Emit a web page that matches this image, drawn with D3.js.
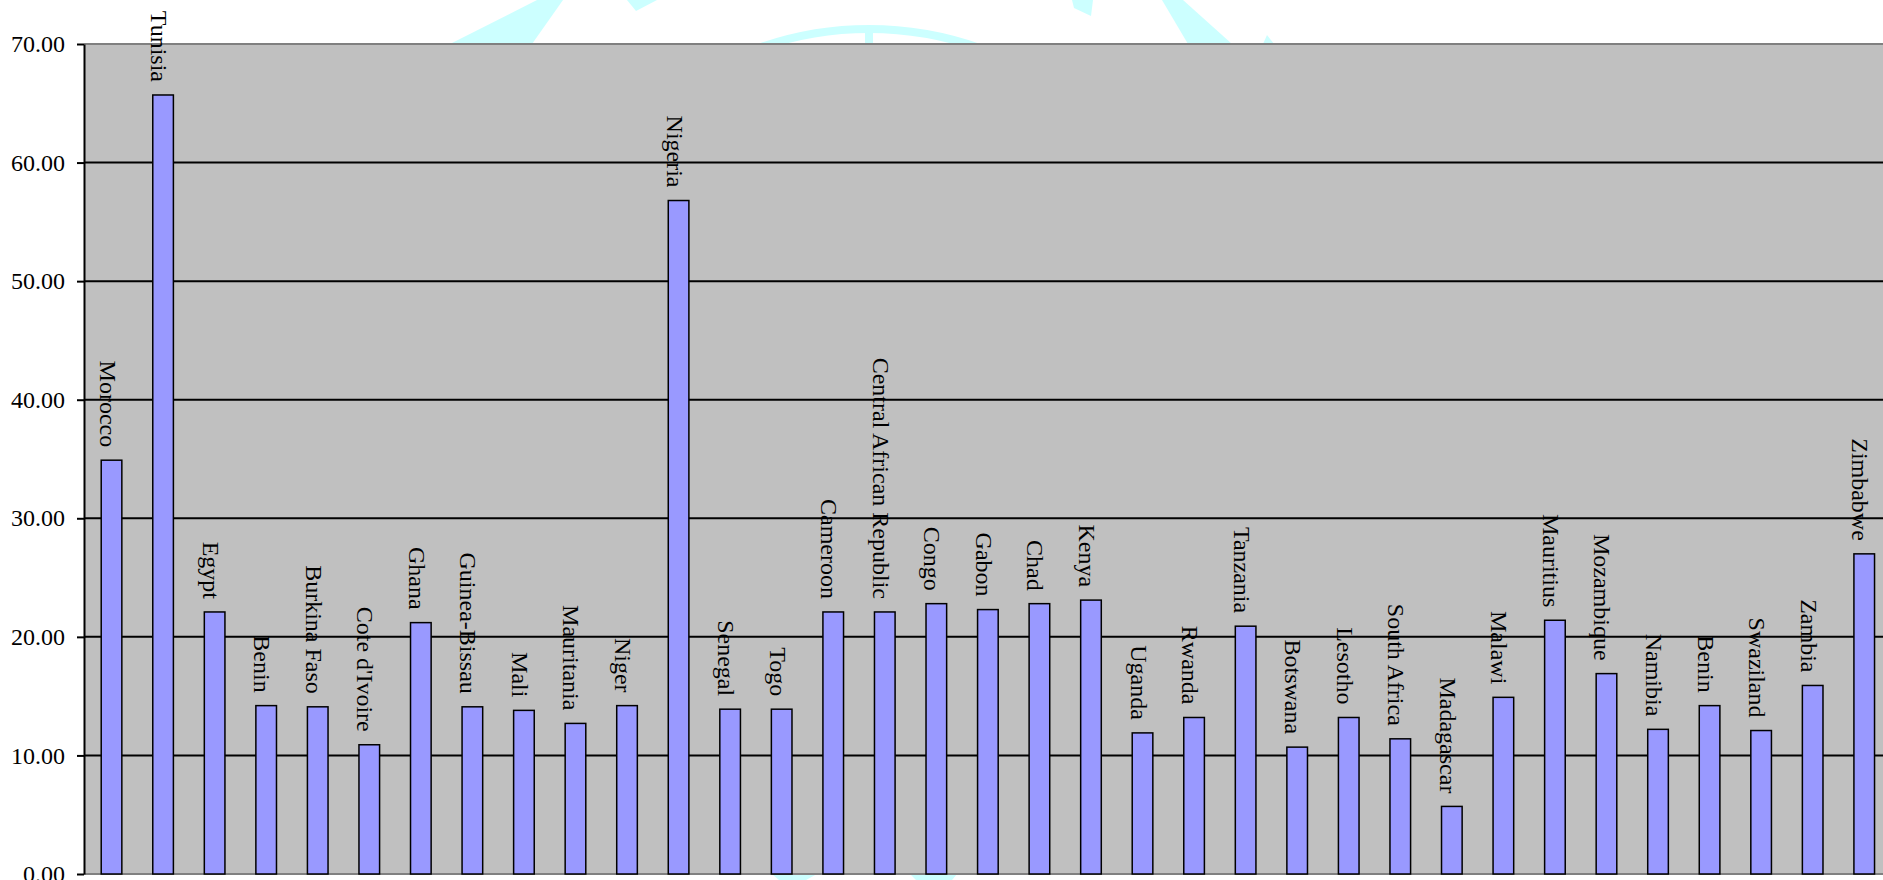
<!DOCTYPE html>
<html>
<head>
<meta charset="utf-8">
<script src="https://cdn.jsdelivr.net/npm/d3@7"></script>
<style>
  body { margin: 0; background: #fff; overflow: hidden; }
  svg { display: block; }
  text { font-family: "Liberation Serif", "Times New Roman", serif; }
</style>
</head>
<body>
<script>
  // data
  const countries = ["Morocco", "Tunisia", "Egypt", "Benin", "Burkina Faso", "Cote d'Ivoire",
    "Ghana", "Guinea-Bissau", "Mali", "Mauritania", "Niger", "Nigeria", "Senegal", "Togo",
    "Cameroon", "Central African Republic", "Congo", "Gabon", "Chad", "Kenya", "Uganda",
    "Rwanda", "Tanzania", "Botswana", "Lesotho", "South Africa", "Madagascar", "Malawi",
    "Mauritius", "Mozambique", "Namibia", "Benin", "Swaziland", "Zambia", "Zimbabwe"];
  const values = [34.9, 65.7, 22.1, 14.2, 14.1, 10.9,
    21.2, 14.1, 13.8, 12.7, 14.2, 56.8, 13.9, 13.9,
    22.1, 22.1, 22.8, 22.3, 22.8, 23.1, 11.9,
    13.2, 20.9, 10.7, 13.2, 11.4, 5.7, 14.9,
    21.4, 16.9, 12.2, 14.2, 12.1, 15.9, 27.0];
  const yTicks = [0, 10, 20, 30, 40, 50, 60, 70];

  const W = 1883, H = 880;
  const plotLeft = 84, plotTop = 44, plotBottom = 874;
  const step = 51.55, padIn = 0.6, padOut = 0.334;
  const n = countries.length;

  const svg = d3.select("body").append("svg")
      .attr("width", W)
      .attr("height", H);

  // faint cyan emblem behind the chart (only shows in the margins)
  const wm = svg.append("g").attr("fill", "#ccffff");
  const wmShapes = [
    [[537,0],[563,0],[532,44],[450,44]],
    [[627,0],[657,0],[636,11]],
    [[1072,0],[1093,0],[1091,16],[1074,8]],
    [[1162,0],[1183,0],[1232,44],[1188,44]],
    [[1263,44],[1267,35],[1274,44]],
    [[865,32],[873,32],[873,44],[865,44]],
    [[772,874],[817,874],[806,880],[779,880]],
    [[910,874],[957,874],[952,880],[916,880]]
  ];
  wm.selectAll("polygon").data(wmShapes).join("polygon")
      .attr("points", d => d.map(p => p.join(",")).join(" "));
  const arc = d3.arc().innerRadius(328).outerRadius(336)
      .startAngle(-0.34).endAngle(0.34);
  wm.append("path").attr("d", arc).attr("transform", "translate(869,361)");

  const x = d3.scaleBand()
      .domain(d3.range(n))
      .range([plotLeft, plotLeft + step * (n - padIn + 2 * padOut)])
      .paddingInner(padIn)
      .paddingOuter(padOut);

  const y = d3.scaleLinear().domain([0, 70]).range([plotBottom, plotTop]);

  // plot area
  svg.append("rect")
      .attr("x", plotLeft).attr("y", plotTop)
      .attr("width", W - plotLeft + 20).attr("height", plotBottom - plotTop)
      .attr("fill", "#c0c0c0");

  // gridlines
  svg.append("g").selectAll("line")
    .data(yTicks.filter(t => t > 0 && t < 70))
    .join("line")
      .attr("x1", plotLeft).attr("x2", W + 10)
      .attr("y1", d => y(d)).attr("y2", d => y(d))
      .attr("stroke", "#000").attr("stroke-width", 2);

  svg.append("line")
      .attr("x1", plotLeft).attr("x2", W + 10)
      .attr("y1", y(70)).attr("y2", y(70))
      .attr("stroke", "#808080").attr("stroke-width", 2);
  svg.append("line")
      .attr("x1", plotLeft).attr("x2", W + 10)
      .attr("y1", y(0)).attr("y2", y(0))
      .attr("stroke", "#808080").attr("stroke-width", 2);

  // bars
  svg.append("g").selectAll("rect")
    .data(values)
    .join("rect")
      .attr("x", (d, i) => x(i))
      .attr("y", d => y(d))
      .attr("width", x.bandwidth())
      .attr("height", d => y(0) - y(d))
      .attr("fill", "#9999ff")
      .attr("stroke", "#000")
      .attr("stroke-width", 1.5);

  // country labels, rotated, sitting on top of each bar
  svg.append("g").selectAll("text")
    .data(values)
    .join("text")
      .attr("transform", (d, i) =>
        "translate(" + (x(i) + x.bandwidth() / 2) + "," + (y(d) - 13) + ") rotate(90)")
      .attr("y", 12)
      .attr("text-anchor", "end")
      .attr("font-size", 24)
      .attr("fill", "#000")
      .text((d, i) => countries[i]);

  // y axis
  const yAxis = d3.axisLeft(y)
      .tickValues(yTicks)
      .tickFormat(d3.format(".2f"))
      .tickSizeInner(7)
      .tickSizeOuter(0)
      .tickPadding(12);

  const ga = svg.append("g")
      .attr("transform", "translate(" + plotLeft + ",0)")
      .call(yAxis);
  ga.select(".domain").attr("stroke", "#000").attr("stroke-width", 2);
  ga.selectAll(".tick line").attr("stroke", "#000").attr("stroke-width", 2);
  ga.selectAll(".tick text")
      .attr("font-family", "Liberation Serif, serif")
      .attr("font-size", 24)
      .attr("fill", "#000");
</script>
</body>
</html>
